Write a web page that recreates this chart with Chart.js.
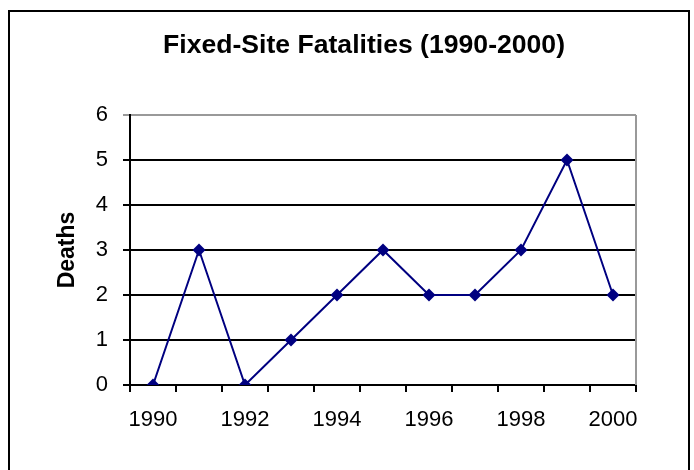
<!DOCTYPE html>
<html>
<head>
<meta charset="utf-8">
<script src="https://cdn.jsdelivr.net/npm/chart.js@4"></script>
<style>
  html, body { margin: 0; padding: 0; background: #fff; }
  #wrap { width: 694px; height: 470px; position: relative; }
</style>
</head>
<body>
<div id="wrap"><canvas id="chart" width="694" height="470"></canvas></div>
<script>
const years = ["1990","1991","1992","1993","1994","1995","1996","1997","1998","1999","2000"];
const deaths = [0, 3, 0, 1, 2, 3, 2, 2, 3, 5, 2];
const chart_title = "Fixed-Site Fatalities (1990-2000)";
const y_title = "Deaths";

// frame, title and right plot border
const decor = {
    id: "decor",
    beforeDraw(chart){
        const ctx = chart.ctx;
        ctx.save();
        ctx.strokeStyle = "#000";
        ctx.lineWidth = 2;
        ctx.strokeRect(9, 11, 680, 520);
        ctx.fillStyle = "#000";
        ctx.font = "bold 26px 'Liberation Sans', Arial";
        ctx.textAlign = "center";
        ctx.textBaseline = "middle";
        // squeeze to the narrow width of the original title
        const w = ctx.measureText(chart_title).width;
        ctx.translate(364, 46);
        ctx.scale(402 / w, 1);
        ctx.fillText(chart_title, 0, 0);
        ctx.restore();
    },
    beforeDatasetsDraw(chart){
        const a = chart.chartArea;
        const ctx = chart.ctx;
        ctx.save();
        ctx.strokeStyle = "#999";
        ctx.lineWidth = 2;
        ctx.beginPath();
        ctx.moveTo(a.right, a.top);
        ctx.lineTo(a.right, a.bottom);
        ctx.stroke();
        ctx.restore();
    }
};

new Chart(document.getElementById("chart").getContext("2d"), {
    type: "line",
    data: {
        labels: years,
        datasets: [{
            label: "Deaths",
            data: deaths,
            borderColor: "#000080",
            backgroundColor: "#000080",
            borderWidth: 2,
            pointStyle: "rectRot",
            pointRadius: 6.5,
            pointBorderWidth: 0,
            tension: 0
        }]
    },
    options: {
        responsive: false,
        animation: false,
        layout: { padding: { top: 115, right: 58, left: 0, bottom: 0 } },
        plugins: { legend: { display: false }, tooltip: { enabled: false } },
        scales: {
            x: {
                type: "category",
                offset: true,
                grid: {
                    offset: true,
                    drawOnChartArea: false,
                    color: "#000",
                    lineWidth: 2,
                    tickLength: 7
                },
                border: { color: "#000", width: 2 },
                ticks: {
                    color: "#000",
                    padding: 15,
                    maxRotation: 0,
                    autoSkip: false,
                    font: { family: "'Liberation Sans', Arial", size: 22 },
                    callback: function(val, i){ return i % 2 === 0 ? this.getLabelForValue(val) : ""; }
                },
                afterFit(scale){ scale.height = 85; }
            },
            y: {
                min: 0,
                max: 6,
                ticks: {
                    stepSize: 1,
                    color: "#000",
                    padding: 15,
                    font: { family: "'Liberation Sans', Arial", size: 22 }
                },
                grid: {
                    color: (c) => c.tick && c.tick.value === 6 ? "#999" : "#000",
                    lineWidth: 2,
                    tickLength: 7
                },
                border: { color: "#000", width: 2 },
                title: {
                    display: true,
                    text: y_title,
                    color: "#000",
                    padding: { top: 54, bottom: 0 },
                    font: { family: "'Liberation Sans', Arial", size: 23, weight: "bold" }
                },
                afterFit(scale){ scale.width = 130; }
            }
        }
    },
    plugins: [decor]
});
</script>
</body>
</html>
